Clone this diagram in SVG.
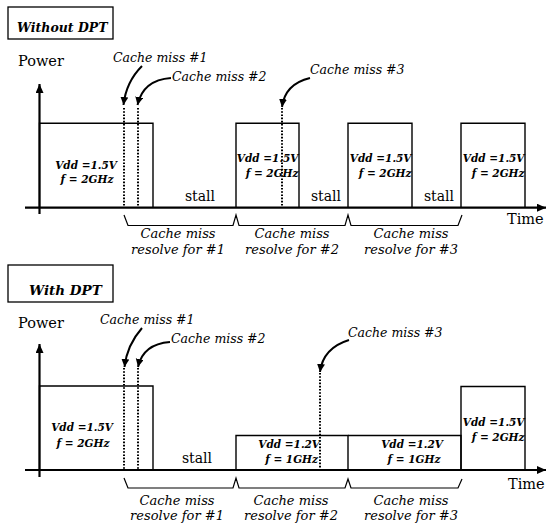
<svg xmlns="http://www.w3.org/2000/svg" width="548" height="525" viewBox="0 0 548 525">
<style>
text{fill:#000;font-family:"DejaVu Serif","Liberation Serif",serif}
.title{font-size:12.5px;font-weight:bold;font-style:italic}
.axis{font-size:14.5px}
.stall{font-size:14px}
.callout{font-size:12.5px;font-style:italic}
.blk{font-size:10.5px;font-weight:bold;font-style:italic}
.brace{font-size:13px;font-style:italic;text-anchor:middle}
.box{fill:#fff;stroke:#000;stroke-width:1.3}
.pulse{fill:none;stroke:#000;stroke-width:1.4}
.ax{stroke:#000;stroke-width:2.2;fill:none}
.dot{stroke:#000;stroke-width:2;stroke-dasharray:1.6 1.6;fill:none}
.arr{stroke:#000;stroke-width:2;fill:none;marker-end:url(#ah)}
.br{stroke:#000;stroke-width:1.2;fill:none}
</style>
<defs>
<marker id="ah" markerUnits="userSpaceOnUse" markerWidth="10" markerHeight="10" refX="8" refY="4" orient="auto">
<path d="M0,0 L8,4 L0,8 Z" fill="#000"/>
</marker>
<marker id="axh" markerUnits="userSpaceOnUse" markerWidth="12" markerHeight="12" refX="9" refY="4" orient="auto">
<path d="M0,0 L9,4 L0,8 Z" fill="#000"/>
</marker>
</defs>
<rect width="548" height="525" fill="#fff"/>

<!-- ===== Top panel: Without DPT ===== -->
<g id="title-without">
<rect class="box" x="8" y="7" width="105" height="32"/>
<text class="title" x="17" y="32">Without DPT</text>
</g>
<g id="axes-top">
<line class="ax" x1="39.5" y1="214" x2="39.5" y2="84" marker-end="url(#axh)"/>
<line class="ax" x1="25" y1="207.7" x2="546" y2="207.7" marker-end="url(#axh)"/>
<text class="axis" x="18" y="66">Power</text>
<text class="axis" x="507" y="224">Time</text>
</g>
<g id="top-block1">
<path class="pulse" d="M39.5,207.7 V123.3 H153 V207.7"/>
<text class="blk" x="86" y="169" text-anchor="middle">Vdd =1.5V</text>
<text class="blk" x="87" y="183" text-anchor="middle">f = 2GHz</text>
</g>
<g id="top-block2">
<path class="pulse" d="M236,207.7 V123.3 H299 V207.7"/>
<text class="blk" x="298.5" y="162" text-anchor="end">Vdd =1.5V</text>
<text class="blk" x="298.5" y="177" text-anchor="end">f = 2GHz</text>
</g>
<g id="top-block3">
<path class="pulse" d="M348,207.7 V123.3 H412 V207.7"/>
<text class="blk" x="411.5" y="162" text-anchor="end">Vdd =1.5V</text>
<text class="blk" x="411.5" y="177" text-anchor="end">f = 2GHz</text>
</g>
<g id="top-block4">
<path class="pulse" d="M461,207.7 V123.3 H525 V207.7"/>
<text class="blk" x="524.5" y="162" text-anchor="end">Vdd =1.5V</text>
<text class="blk" x="524.5" y="177" text-anchor="end">f = 2GHz</text>
</g>
<g id="top-stalls">
<text class="stall" x="200" y="200.5" text-anchor="middle">stall</text>
<text class="stall" x="326" y="200.5" text-anchor="middle">stall</text>
<text class="stall" x="439" y="200.5" text-anchor="middle">stall</text>
</g>
<g id="top-callouts">
<text class="callout" x="113" y="62">Cache miss #1</text>
<text class="callout" x="172" y="81">Cache miss #2</text>
<text class="callout" x="310" y="74">Cache miss #3</text>
</g>
<g id="top-brace-labels">
<text class="brace" x="178" y="238">Cache miss</text>
<text class="brace" x="178" y="254">resolve for #1</text>
<text class="brace" x="292" y="238">Cache miss</text>
<text class="brace" x="292" y="254">resolve for #2</text>
<text class="brace" x="411" y="238">Cache miss</text>
<text class="brace" x="411" y="254">resolve for #3</text>
</g>

<!-- ===== Bottom panel: With DPT ===== -->
<g id="title-with">
<rect class="box" x="8" y="265" width="105" height="37"/>
<text class="title" x="29" y="295" style="font-size:13.5px">With DPT</text>
</g>
<g id="axes-bottom">
<line class="ax" x1="39.5" y1="477" x2="39.5" y2="344" marker-end="url(#axh)"/>
<line class="ax" x1="25" y1="470" x2="546" y2="470" marker-end="url(#axh)"/>
<text class="axis" x="18" y="328">Power</text>
<text class="axis" x="508" y="489">Time</text>
</g>
<g id="bot-block1">
<path class="pulse" d="M39.5,470 V386 H153 V470"/>
<text class="blk" x="82" y="431" text-anchor="middle">Vdd =1.5V</text>
<text class="blk" x="83" y="447" text-anchor="middle">f = 2GHz</text>
</g>
<g id="bot-block2">
<path class="pulse" d="M236,470 V435.5 H348 V470"/>
<text class="blk" x="320" y="448" text-anchor="end">Vdd =1.2V</text>
<text class="blk" x="318" y="463" text-anchor="end">f = 1GHz</text>
</g>
<g id="bot-block3">
<path class="pulse" d="M348,435.5 H461 V470"/>
<text class="blk" x="412" y="448" text-anchor="middle">Vdd =1.2V</text>
<text class="blk" x="414" y="463" text-anchor="middle">f = 1GHz</text>
</g>
<g id="bot-block4">
<path class="pulse" d="M461,470 V386.5 H525 V470"/>
<text class="blk" x="524.5" y="426" text-anchor="end">Vdd =1.5V</text>
<text class="blk" x="524.5" y="441" text-anchor="end">f = 2GHz</text>
</g>
<g id="bot-stall">
<text class="stall" x="197" y="463" text-anchor="middle">stall</text>
</g>
<g id="bot-callouts">
<text class="callout" x="100" y="324">Cache miss #1</text>
<text class="callout" x="171" y="343">Cache miss #2</text>
<text class="callout" x="348" y="337">Cache miss #3</text>
</g>
<g id="bot-brace-labels">
<text class="brace" x="177" y="505">Cache miss</text>
<text class="brace" x="177" y="520">resolve for #1</text>
<text class="brace" x="291" y="505">Cache miss</text>
<text class="brace" x="291" y="520">resolve for #2</text>
<text class="brace" x="411" y="505">Cache miss</text>
<text class="brace" x="411" y="520">resolve for #3</text>
</g>

<!-- ===== Connectors ===== -->
<g id="connectors">
<line class="dot" x1="124" y1="108" x2="124" y2="207"/>
<line class="dot" x1="138" y1="108" x2="138" y2="207"/>
<line class="dot" x1="282" y1="108" x2="282" y2="207"/>
<path class="arr" d="M142,66 Q126,82 123.5,105"/>
<path class="arr" d="M171,78 Q143,80 137.5,105"/>
<path class="arr" d="M310,78 Q285,84 282,107"/>
<path class="br" d="M124,215 L128,225.5 H233 L236,215 L239,225.5 H345 L348,215 L351,225.5 H458 L462,215"/>
<line class="dot" x1="124" y1="368" x2="124" y2="469"/>
<line class="dot" x1="138" y1="368" x2="138" y2="469"/>
<line class="dot" x1="320" y1="373" x2="320" y2="469"/>
<path class="arr" d="M142,328 Q127,345 124.5,367"/>
<path class="arr" d="M170,342 Q143,344 138,367"/>
<path class="arr" d="M349,340 Q323,348 320,372"/>
<path class="br" d="M124,478 L128,488 H233 L236,478 L239,488 H345 L348,479 L351,488 H458 L462,479"/>
</g>
</svg>
